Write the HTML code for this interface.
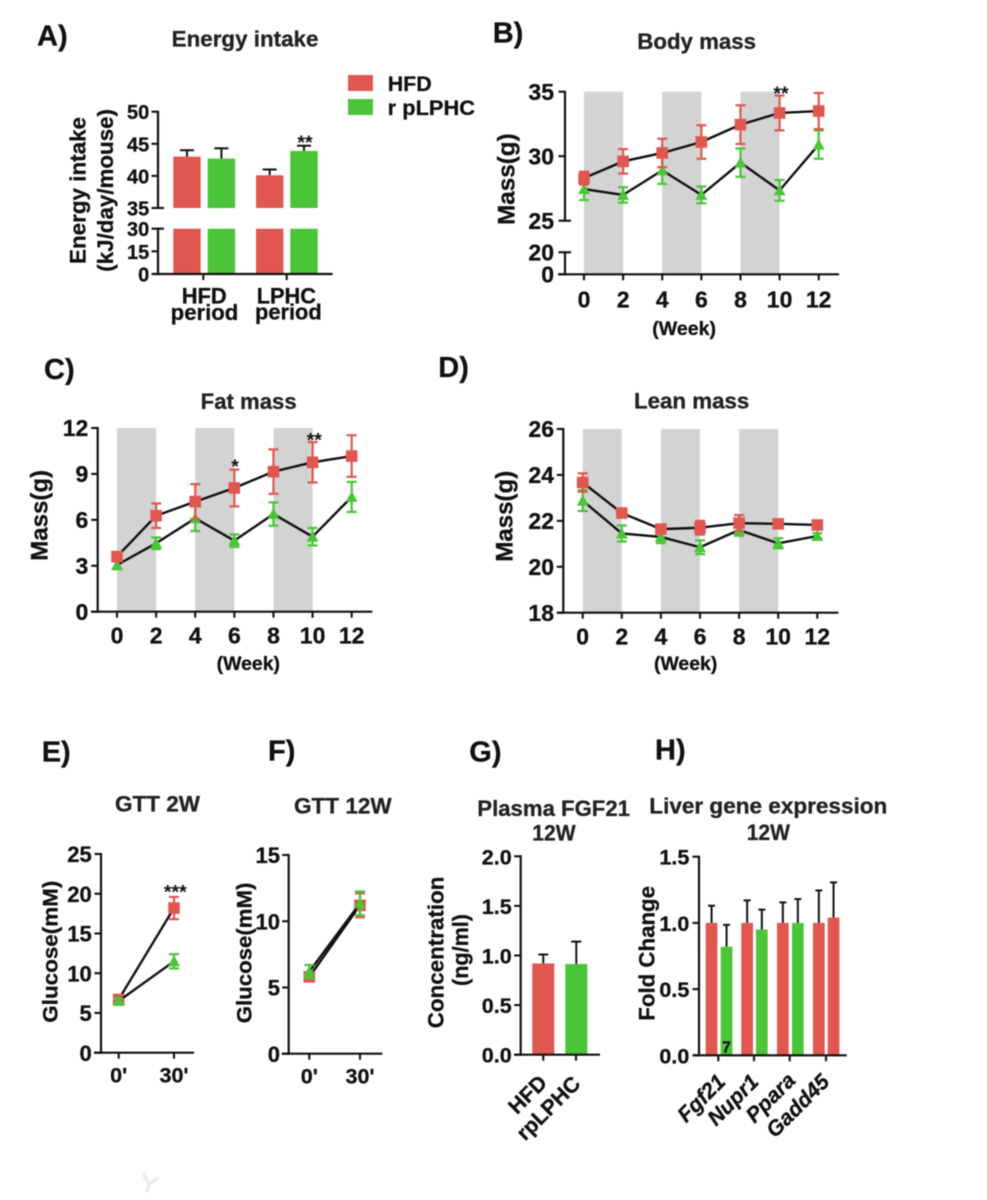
<!DOCTYPE html>
<html lang="en">
<head>
<meta charset="utf-8">
<title>Energy intake and metabolic panels</title>
<style>
html,body{margin:0;padding:0;background:#fff;}
#figure{display:block;width:987px;height:1200px;filter:blur(0.4px);}
text{font-family:"Liberation Sans",sans-serif;font-weight:bold;fill:#111;stroke:#111;stroke-width:0.3px;}
.panel{font-size:29px;}
.title{font-size:22px;fill:#222;stroke:#222;}
.axis-title{font-size:22.5px;}
.glucose{font-size:21px;}
.mass{font-size:24px;}
.week{font-size:19px;}
.legend{font-size:21.5px;}
.cat{font-size:22px;}
.star{font-size:19.5px;stroke-width:0;}
.rot{font-size:21.5px;}
.gene{font-style:italic;font-size:21.5px;}
</style>
</head>
<body>
<svg id="figure" xmlns="http://www.w3.org/2000/svg" width="987" height="1200" viewBox="0 0 987 1200">
  <rect x="0" y="0" width="987" height="1200" fill="#ffffff"/>
  <g id="marks"></g>

  <text class="panel" x="37" y="45.7">A)</text>
  <text class="panel" x="492.7" y="42.7">B)</text>
  <text class="panel" x="44" y="379">C)</text>
  <text class="panel" x="438.3" y="377">D)</text>
  <text class="panel" x="41.7" y="761.7">E)</text>
  <text class="panel" x="268" y="760.7">F)</text>
  <text class="panel" x="469.3" y="761.7">G)</text>
  <text class="panel" x="655" y="759.3">H)</text>

  <text class="title" x="171.7" y="46.7" textLength="146.7" lengthAdjust="spacingAndGlyphs">Energy intake</text>
  <text class="title" x="637.3" y="49" textLength="118.7" lengthAdjust="spacingAndGlyphs">Body mass</text>
  <text class="title" x="200.7" y="409" textLength="96" lengthAdjust="spacingAndGlyphs">Fat mass</text>
  <text class="title" x="634" y="408.3" textLength="115.3" lengthAdjust="spacingAndGlyphs">Lean mass</text>
  <text class="title" x="115" y="811.7" textLength="85" lengthAdjust="spacingAndGlyphs">GTT 2W</text>
  <text class="title" x="294" y="813.3" textLength="97.7" lengthAdjust="spacingAndGlyphs">GTT 12W</text>
  <text class="title" x="477.3" y="816" textLength="152.7" lengthAdjust="spacingAndGlyphs">Plasma FGF21</text>
  <text class="title" x="532.3" y="840.7" textLength="43.4" lengthAdjust="spacingAndGlyphs">12W</text>
  <text class="title" x="649.3" y="813.3" textLength="238" lengthAdjust="spacingAndGlyphs">Liver gene expression</text>
  <text class="title" x="746.7" y="840" textLength="43.3" lengthAdjust="spacingAndGlyphs">12W</text>

  <rect x="348" y="75" width="25" height="16" fill="#E0574F"/>
  <rect x="348" y="99" width="25" height="16" fill="#4CC43A"/>
  <text class="legend" x="387.7" y="91" textLength="44" lengthAdjust="spacingAndGlyphs">HFD</text>
  <text class="legend" x="387.7" y="115" textLength="87.3" lengthAdjust="spacingAndGlyphs">r pLPHC</text>

  <text class="axis-title" transform="translate(85.5,264) rotate(-90)" textLength="147" lengthAdjust="spacingAndGlyphs">Energy intake</text>
  <text class="axis-title" transform="translate(113,271.7) rotate(-90)" textLength="162.7" lengthAdjust="spacingAndGlyphs">(kJ/day/mouse)</text>
  <text class="mass" transform="translate(514.3,225) rotate(-90)" textLength="91.7" lengthAdjust="spacingAndGlyphs">Mass(g)</text>
  <text class="mass" transform="translate(47.3,560.7) rotate(-90)" textLength="90.7" lengthAdjust="spacingAndGlyphs">Mass(g)</text>
  <text class="mass" transform="translate(512.3,561.7) rotate(-90)" textLength="91" lengthAdjust="spacingAndGlyphs">Mass(g)</text>
  <text class="glucose" transform="translate(57.7,1022.7) rotate(-90)" textLength="142" lengthAdjust="spacingAndGlyphs">Glucose(mM)</text>
  <text class="glucose" transform="translate(251.7,1023.3) rotate(-90)" textLength="140.7" lengthAdjust="spacingAndGlyphs">Glucose(mM)</text>
  <text class="axis-title" transform="translate(443.3,1028.3) rotate(-90)" textLength="151.7" lengthAdjust="spacingAndGlyphs">Concentration</text>
  <text class="axis-title" transform="translate(468,986) rotate(-90)" textLength="72" lengthAdjust="spacingAndGlyphs">(ng/ml)</text>
  <text class="axis-title" transform="translate(654.3,1020.7) rotate(-90)" textLength="134.7" lengthAdjust="spacingAndGlyphs">Fold Change</text>

  <text class="week" x="652.3" y="335" textLength="63.7" lengthAdjust="spacingAndGlyphs">(Week)</text>
  <text class="week" x="216.7" y="670" textLength="63.3" lengthAdjust="spacingAndGlyphs">(Week)</text>
  <text class="week" x="654" y="670" textLength="63.3" lengthAdjust="spacingAndGlyphs">(Week)</text>

  <text class="star" x="305" y="149" text-anchor="middle">**</text>
  <text class="star" x="781" y="100" text-anchor="middle">**</text>
  <text class="star" x="235" y="473" text-anchor="middle">*</text>
  <text class="star" x="314.3" y="446.5" text-anchor="middle">**</text>
  <text class="star" x="175.3" y="898.5" text-anchor="middle">***</text>

  <text class="cat" x="181.7" y="303.3" textLength="45" lengthAdjust="spacingAndGlyphs">HFD</text>
  <text class="cat" x="170.7" y="320" textLength="67.6" lengthAdjust="spacingAndGlyphs">period</text>
  <text class="cat" x="256.7" y="303.3" textLength="59.3" lengthAdjust="spacingAndGlyphs">LPHC</text>
  <text class="cat" x="255" y="319.3" textLength="66.7" lengthAdjust="spacingAndGlyphs">period</text>

  <text class="rot" text-anchor="end" transform="translate(548.3,1084) rotate(-45)">HFD</text>
  <text class="rot" text-anchor="end" transform="translate(581.7,1085) rotate(-45)">rpLPHC</text>
  <text class="gene" text-anchor="end" transform="translate(726.7,1083) rotate(-45)">Fgf21</text>
  <text class="gene" text-anchor="end" transform="translate(760,1083) rotate(-45)">Nupr1</text>
  <text class="gene" text-anchor="end" transform="translate(796.7,1081.7) rotate(-45)">Ppara</text>
  <text class="gene" text-anchor="end" transform="translate(830.7,1083) rotate(-45)">Gadd45</text>

  <path d="M143 1173 L149 1184 L147 1192 M149 1184 L158 1178" fill="none" stroke="#ececec" stroke-width="3.5"/>
</svg>

<script>
// Panel A: energy intake
const energyValues = [43, 42.7, 40.1, 43.9];
const energyUpper = [44, 44.3, 41, 44.7];
const energyYTicks = [0, 15, 30, 35, 40, 45, 50];
// Panel B: body mass
const weeks = [0, 2, 4, 6, 8, 10, 12];
const weekLabels = ['0', '2', '4', '6', '8', '10', '12'];
const shadedWeekStarts = [0, 4, 8];
const bodyHfd = [28.3, 29.6, 30.25, 31.1, 32.45, 33.35, 33.5];
const bodyHfdErr = [0.5, 0.95, 1.1, 1.3, 1.5, 1.35, 1.4];
const bodyLphc = [27.45, 27, 28.9, 27, 29.5, 27.35, 30.9];
const bodyLphcErr = [0.85, 0.6, 1.05, 0.65, 1.1, 0.8, 1.1];
const bodyYTicks = [0, 20, 25, 30, 35];
// Panel C: fat mass
const fatHfd = [3.6, 6.27, 7.19, 8.08, 9.15, 9.76, 10.17];
const fatHfdErr = [0.3, 0.8, 1.14, 1.2, 1.45, 1.32, 1.36];
const fatLphc = [3.05, 4.47, 6.1, 4.64, 6.38, 4.9, 7.5];
const fatLphcErr = [0.28, 0.38, 0.83, 0.41, 0.76, 0.57, 0.98];
const fatYTicks = [0, 3, 6, 9, 12];
// Panel D: lean mass
const leanHfd = [23.67, 22.34, 21.64, 21.7, 21.9, 21.87, 21.82];
const leanHfdErr = [0.4, 0.15, 0.15, 0.3, 0.35, 0.15, 0.12];
const leanLphc = [22.88, 21.45, 21.3, 20.85, 21.6, 21.02, 21.34];
const leanLphcErr = [0.45, 0.35, 0.27, 0.3, 0.25, 0.22, 0.12];
const leanYTicks = [18, 20, 22, 24, 26];
// Panels E and F: glucose tolerance
const gttTimes = [0, 30];
const gttLabels = ["0'", "30'"];
const gtt2wHfd = [6.7, 18.2];
const gtt2wHfdErr = [0.4, 1.4];
const gtt2wLphc = [6.5, 11.5];
const gtt2wLphcErr = [0.3, 0.9];
const gtt2wYTicks = [0, 5, 10, 15, 20, 25];
const gtt12wHfd = [5.8, 11.2];
const gtt12wHfdErr = [0.25, 0.9];
const gtt12wLphc = [6.2, 11.35];
const gtt12wLphcErr = [0.5, 0.9];
const gtt12wYTicks = [0, 5, 10, 15];
// Panel G: plasma FGF21
const fgfValues = [0.92, 0.915];
const fgfUpper = [1.01, 1.14];
const fgfYTicks = [0, 0.5, 1, 1.5, 2];
// Panel H: liver gene expression
const geneHfd = [1, 1, 1, 1];
const geneHfdUpper = [1.13, 1.17, 1.155, 1.245];
const geneSecond = [0.82, 0.95, 1, 1.04];
const geneSecondUpper = [0.985, 1.1, 1.18, 1.306];
const geneYTicks = [0, 0.5, 1, 1.5];

const RED = '#E0574F';
const GREEN = '#4CC43A';
const GRAY = '#D3D3D3';
const INK = '#111111';
const NS = 'http://www.w3.org/2000/svg';
const root = document.getElementById('marks');

function mk(tag, attrs, text) {
  const el = document.createElementNS(NS, tag);
  for (const k in attrs) el.setAttribute(k, attrs[k]);
  if (text !== undefined) el.textContent = text;
  root.appendChild(el);
  return el;
}
function linear(d0, d1, r0, r1) {
  return v => r0 + (v - d0) * (r1 - r0) / (d1 - d0);
}
function broken(cut, upper, lower) {
  return v => (v >= cut ? upper(v) : lower(v));
}
function seg(x1, y1, x2, y2, color, w, name) {
  const el = mk('line', {x1, y1, x2, y2, stroke: color, 'stroke-width': w});
  
  
  return el;
}
function yAxis(p, ticks, y, axisX, x0, x1, opts) {
  const o = opts || {};
  const gaps = o.gaps || [];
  const ys = ticks.map(y);
  const runs = gaps.length ? gaps : [[Math.min.apply(null, ticks), Math.max.apply(null, ticks)]];
  runs.forEach(r => seg(axisX, y(r[0]) + 1, axisX, y(r[1]) - 1, INK, 2.2, p + '-y-axis-line'));
  const endTicks = o.endTicks || [];
  ticks.forEach((t, i) => {
    const right = endTicks.indexOf(t) >= 0 ? axisX + 6 : axisX;
    seg(axisX - (o.tickLen || 6.5), ys[i], right, ys[i], INK, 2.1, p + '-y-tick');
    const label = mk('text', {x: axisX - o.gap, y: ys[i] + o.dy, 'text-anchor': 'end', 'font-size': o.size}, o.fmt ? t.toFixed(1) : String(t));
    
    
  });
  seg(x0, ys[ticks.indexOf(o.base)], x1, ys[ticks.indexOf(o.base)], INK, 2.2, p + '-x-axis-line');
}
function xTicks(p, positions, labels, axisY, size, dy) {
  positions.forEach((x, i) => {
    seg(x, axisY, x, axisY + 6, INK, 2.1, p + '-x-tick');
    if (labels) {
      const label = mk('text', {x, y: axisY + dy, 'text-anchor': 'middle', 'font-size': size}, labels[i]);
      
      
    }
  });
}
function bands(p, starts, x, span, top, bottom) {
  starts.forEach(s => {
    const el = mk('rect', {x: x(s), y: top, width: x(s + span) - x(s), height: bottom - top, fill: GRAY});
    
    
  });
}
function series(p, key, xs, vals, errs, x, y, color, shape, capW) {
  const pts = xs.map((d, i) => x(d) + ',' + y(vals[i])).join(' ');
  const line = mk('polyline', {points: pts, fill: 'none', stroke: INK, 'stroke-width': 2.4, 'stroke-linejoin': 'round'});
  
  
  xs.forEach((d, i) => {
    const cx = x(d), cy = y(vals[i]), hi = y(vals[i] + errs[i]), lo = y(vals[i] - errs[i]);
    seg(cx, hi, cx, lo, color, 2.2, p + '-error-bar-' + key);
    seg(cx - capW / 2, hi, cx + capW / 2, hi, color, 2.2, p + '-error-cap-' + key);
    seg(cx - capW / 2, lo, cx + capW / 2, lo, color, 2.2, p + '-error-cap-' + key);
    let m;
    if (shape === 'square') {
      m = mk('rect', {x: cx - 5.8, y: cy - 5.8, width: 11.6, height: 11.6, fill: color});
    } else {
      m = mk('polygon', {points: (cx) + ',' + (cy - 6.2) + ' ' + (cx + 5.9) + ',' + (cy + 5) + ' ' + (cx - 5.9) + ',' + (cy + 5), fill: color});
    }
    
    
  });
}
function bar(p, key, xLeft, w, val, upper, y, baseV, color, capW) {
  const cx = xLeft + w / 2;
  seg(cx, y(val), cx, y(upper), INK, 2, p + '-error-bar-' + key);
  seg(cx - capW / 2, y(upper), cx + capW / 2, y(upper), INK, 2, p + '-error-cap-' + key);
  const el = mk('rect', {x: xLeft, y: y(val), width: w, height: y(baseV) - y(val), fill: color});
  
  
}

/* A */
(function () {
  const upper = linear(35, 50, 208, 111.7);
  const lower = linear(0, 30, 274, 228.7);
  const y = broken(32.5, upper, lower);
  const lefts = [173.3, 207.7, 256, 290.3];
  const colors = [RED, GREEN, RED, GREEN];
  const keys = ['hfd-period-hfd', 'hfd-period-rplphc', 'lphc-period-hfd', 'lphc-period-rplphc'];
  energyValues.forEach((v, i) => {
    bar('a', keys[i], lefts[i], 27.4, v, energyUpper[i], upper, 35, colors[i], 14);
    const low = mk('rect', {x: lefts[i], y: lower(30), width: 27.4, height: lower(0) - lower(30), fill: colors[i]});
    
    
  });
  yAxis('a', energyYTicks, y, 158, 153, 332.6, {gaps: [[0, 30], [35, 50]], endTicks: [30, 35], gap: 8.7, dy: 7.5, size: 20, base: 0});
  xTicks('a', [203.3, 286.7], null, 274);
})();

/* B */
(function () {
  const upper = linear(25, 35, 220.7, 91.7);
  const lower = linear(0, 20, 274.3, 252.3);
  const y = broken(22.5, upper, lower);
  const x = linear(0, 12, 584, 818.7);
  bands('b', shadedWeekStarts, x, 2, 91.7, 274.3);
  series('b', 'rplphc', weeks, bodyLphc, bodyLphcErr, x, y, GREEN, 'tri', 10);
  series('b', 'hfd', weeks, bodyHfd, bodyHfdErr, x, y, RED, 'square', 10);
  yAxis('b', bodyYTicks, y, 565, 558, 839, {gaps: [[0, 20], [25, 35]], endTicks: [20, 25], gap: 11, dy: 8.4, size: 23, base: 0});
  xTicks('b', weeks.map(x), weekLabels, 274.3, 23, 33);
})();

/* C */
(function () {
  const y = linear(0, 12, 611.7, 428);
  const x = linear(0, 12, 117, 351.7);
  bands('c', shadedWeekStarts, x, 2, 428, 611.7);
  series('c', 'rplphc', weeks, fatLphc, fatLphcErr, x, y, GREEN, 'tri', 10);
  series('c', 'hfd', weeks, fatHfd, fatHfdErr, x, y, RED, 'square', 10);
  yAxis('c', fatYTicks, y, 97.7, 91, 372.3, {gap: 9.4, dy: 8.2, size: 23, base: 0});
  xTicks('c', weeks.map(x), weekLabels, 611.7, 23, 31.6);
})();

/* D */
(function () {
  const y = linear(18, 26, 612.7, 429);
  const x = linear(0, 12, 582.7, 817.3);
  bands('d', shadedWeekStarts, x, 2, 429, 612.7);
  series('d', 'rplphc', weeks, leanLphc, leanLphcErr, x, y, GREEN, 'tri', 10);
  series('d', 'hfd', weeks, leanHfd, leanHfdErr, x, y, RED, 'square', 10);
  yAxis('d', leanYTicks, y, 563.3, 557.3, 838.3, {gap: 9.3, dy: 8.2, size: 23, base: 18});
  xTicks('d', weeks.map(x), weekLabels, 612.7, 23, 31.6);
})();

/* E */
(function () {
  const y = linear(0, 25, 1052.7, 854);
  const x = linear(0, 30, 118.7, 174);
  series('e', 'hfd', gttTimes, gtt2wHfd, gtt2wHfdErr, x, y, RED, 'square', 10);
  series('e', 'rplphc', gttTimes, gtt2wLphc, gtt2wLphcErr, x, y, GREEN, 'tri', 10);
  yAxis('e', gtt2wYTicks, y, 101, 94, 194, {gap: 9.3, dy: 8.2, size: 22, base: 0});
  xTicks('e', gttTimes.map(x), gttLabels, 1052.7, 21.5, 30);
})();

/* F */
(function () {
  const y = linear(0, 15, 1053.7, 855);
  const x = linear(0, 30, 309.3, 360);
  series('f', 'hfd', gttTimes, gtt12wHfd, gtt12wHfdErr, x, y, RED, 'square', 10);
  series('f', 'rplphc', gttTimes, gtt12wLphc, gtt12wLphcErr, x, y, GREEN, 'tri', 10);
  yAxis('f', gtt12wYTicks, y, 288.7, 281.7, 382.3, {gap: 8.7, dy: 8.2, size: 22, base: 0});
  xTicks('f', gttTimes.map(x), gttLabels, 1053.7, 21.5, 29.6);
})();

/* G */
(function () {
  const y = linear(0, 2, 1054.7, 856.3);
  bar('g', 'hfd', 532.3, 22, fgfValues[0], fgfUpper[0], y, 0, RED, 10);
  bar('g', 'rplphc', 565.3, 22, fgfValues[1], fgfUpper[1], y, 0, GREEN, 10);
  yAxis('g', fgfYTicks, y, 520.7, 514, 600, {gap: 9, dy: 8, size: 21.5, base: 0, fmt: true});
  xTicks('g', [543.3, 576], null, 1054.7);
})();

/* H */
(function () {
  const y = linear(0, 1.5, 1055.3, 856.7);
  const leftsA = [705.7, 741.3, 777, 813];
  const leftsB = [720.7, 756, 792, 827.7];
  const colorsB = [GREEN, GREEN, GREEN, RED];
  const names = ['fgf21', 'nupr1', 'ppara', 'gadd45'];
  geneHfd.forEach((v, i) => {
    bar('h', names[i] + '-hfd', leftsA[i], 11.7, v, geneHfdUpper[i], y, 0, RED, 7);
    bar('h', names[i] + '-second', leftsB[i], 11.7, geneSecond[i], geneSecondUpper[i], y, 0, colorsB[i], 7);
  });
  yAxis('h', geneYTicks, y, 699, 692.7, 846.7, {gap: 9.7, dy: 8, size: 21.5, base: 0, fmt: true});
  xTicks('h', [718.3, 754, 789.7, 826], null, 1055.3);
  const seven = mk('text', {x: 726.5, y: 1052.7, 'text-anchor': 'middle', 'font-size': 16}, '7');
  
  
})();
</script>
</body>
</html>
